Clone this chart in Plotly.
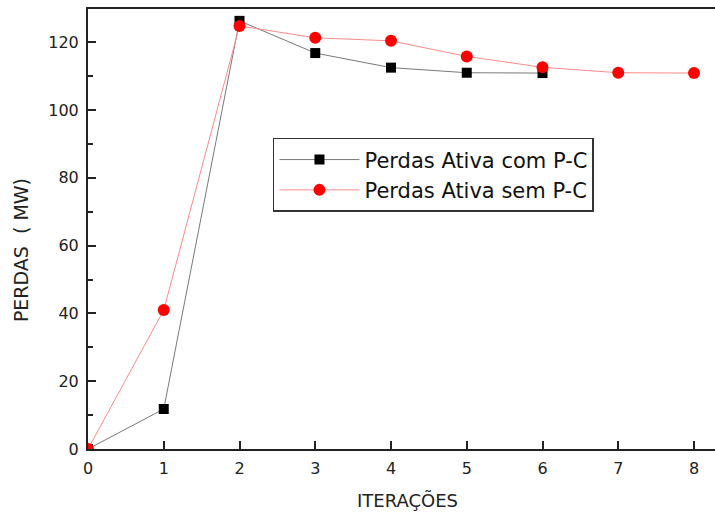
import plotly.graph_objects as go

# Iterations and active power losses (MW)
iter_com = [0, 1, 2, 3, 4, 5, 6]
perdas_com = [0, 11.8, 126.3, 116.8, 112.5, 111.0, 110.9]

iter_sem = [0, 1, 2, 3, 4, 5, 6, 7, 8]
perdas_sem = [0, 41.0, 124.8, 121.3, 120.4, 115.8, 112.6, 111.0, 110.9]

x_ticks = [0, 1, 2, 3, 4, 5, 6, 7, 8]
y_ticks = [0, 20, 40, 60, 80, 100, 120]
y_minor = [10, 30, 50, 70, 90, 110, 130]

font_family = "DejaVu Sans, Arial, sans-serif"
ink = "#222"

fig = go.Figure()
fig.add_trace(go.Scatter(
    x=iter_com, y=perdas_com, mode="lines+markers",
    name="Perdas Ativa com P-C",
    line=dict(color="#7a7a7a", width=1),
    marker=dict(symbol="square", size=10, color="black"),
))
fig.add_trace(go.Scatter(
    x=iter_sem, y=perdas_sem, mode="lines+markers",
    name="Perdas Ativa sem P-C",
    line=dict(color="#ff8a8a", width=1),
    marker=dict(symbol="circle", size=12, color="red"),
))

fig.update_layout(
    width=715, height=513,
    margin=dict(l=88, r=0, t=9, b=64),
    paper_bgcolor="white", plot_bgcolor="white",
    font=dict(family=font_family, size=16, color=ink),
    showlegend=True,
    legend=dict(
        x=0.295, y=0.707, xanchor="left", yanchor="top",
        bgcolor="white", bordercolor="#333", borderwidth=1.5,
        font=dict(size=21, color="#111"),
        tracegroupgap=0, itemwidth=80,
        entrywidth=340, entrywidthmode="pixels",
    ),
    xaxis=dict(
        range=[0, 8.277], tickvals=x_ticks,
        ticks="inside", ticklen=8, tickwidth=1.5, tickcolor=ink,
        showline=True, linecolor=ink, linewidth=2, mirror=True,
        showgrid=False, zeroline=False,
        tickfont=dict(size=16), ticklabelstandoff=4,
    ),
    yaxis=dict(
        range=[0, 129.8], tickvals=y_ticks,
        ticks="inside", ticklen=8, tickwidth=1.5, tickcolor=ink,
        minor=dict(tickvals=y_minor, ticks="inside",
                   ticklen=5, tickwidth=1.5, tickcolor=ink),
        showline=True, linecolor=ink, linewidth=2, mirror=False,
        showgrid=False, zeroline=False,
        tickfont=dict(size=16), ticklabelstandoff=4,
    ),
    annotations=[
        dict(text="ITERAÇÕES", xref="paper", yref="paper", x=0.509, y=0,
             yshift=-51, xanchor="center", yanchor="middle",
             showarrow=False, font=dict(size=18, color=ink)),
        dict(text="PERDAS  ( MW)", xref="paper", yref="paper", x=0, y=0.452,
             xshift=-67, xanchor="center", yanchor="middle", textangle=-90,
             showarrow=False, font=dict(size=19, color=ink)),
    ],
)

fig.write_html("out.html")
